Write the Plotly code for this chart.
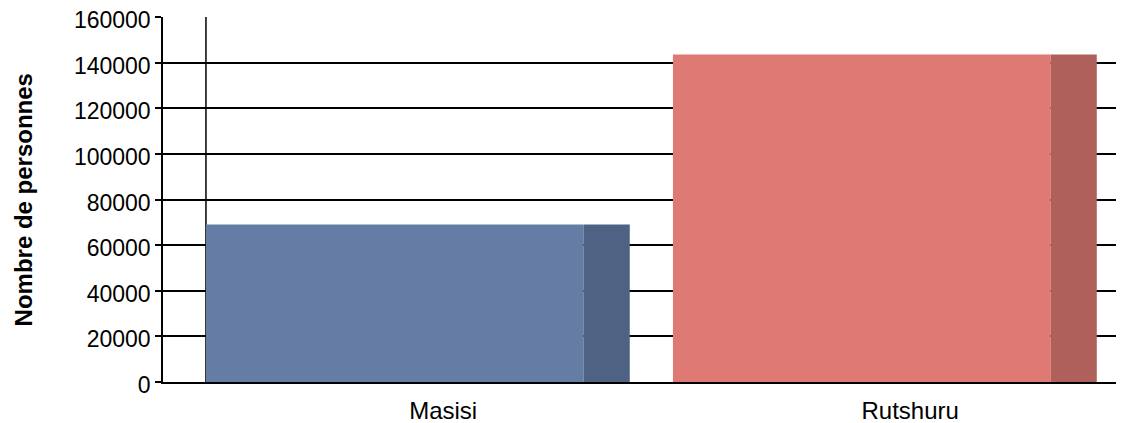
import plotly.graph_objects as go

categories = ["Masisi", "Rutshuru"]
values = [69000, 143600]
front_colors = ["#657DA5", "#DF7973"]
side_colors = ["#4E6383", "#B0605A"]
y_ticks = [0, 20000, 40000, 60000, 80000, 100000, 120000, 140000, 160000]

xpos = [0, 1]
front_w = 0.809
side_w = 0.0985
start = -0.454
label_shift = 0.054

fig = go.Figure()
fig.add_trace(go.Bar(
    x=xpos, y=values, width=front_w, offset=start,
    marker=dict(color=front_colors, line=dict(width=0)), showlegend=False,
))
fig.add_trace(go.Bar(
    x=xpos, y=values, width=side_w, offset=start + front_w,
    marker=dict(color=side_colors, line=dict(width=0)), showlegend=False,
))

fig.add_shape(type="line", xref="x", yref="y", x0=start, x1=start,
              y0=0, y1=y_ticks[-1], line=dict(color="black", width=1.5),
              layer="below")

fig.add_annotation(text="<b>Nombre de personnes</b>", textangle=-90,
                   xref="paper", yref="paper", x=-0.145, y=0.5,
                   xanchor="center", yanchor="middle", showarrow=False,
                   font=dict(family="Liberation Sans, Arial", size=24, color="black"))

fig.update_layout(
    width=1116, height=415,
    margin=dict(l=155, r=2, t=9, b=41),
    paper_bgcolor="white", plot_bgcolor="white",
    barmode="overlay",
    font=dict(family="Liberation Sans, Arial", color="black"),
    xaxis=dict(
        range=[-0.546, 1.5075], tickvals=[p + label_shift for p in xpos],
        ticktext=categories,
        showgrid=False, zeroline=False, showline=True, linecolor="black",
        linewidth=1.5, ticks="outside", ticklen=6, tickcolor="rgba(0,0,0,0)",
        tickfont=dict(size=24), automargin=False, ticklabeloverflow="allow",
    ),
    yaxis=dict(
        range=[0, 160000], tickvals=y_ticks, ticktext=[str(v) for v in y_ticks],
        showgrid=True, gridcolor="black", gridwidth=1.5, zeroline=False,
        showline=True, linecolor="black", linewidth=1.5,
        ticks="outside", ticklen=6, tickcolor="black", tickwidth=1.5,
        tickfont=dict(size=23), automargin=False, ticklabeloverflow="allow",
        ticklabelshift=3,
    ),
)

fig.write_html("out.html")
